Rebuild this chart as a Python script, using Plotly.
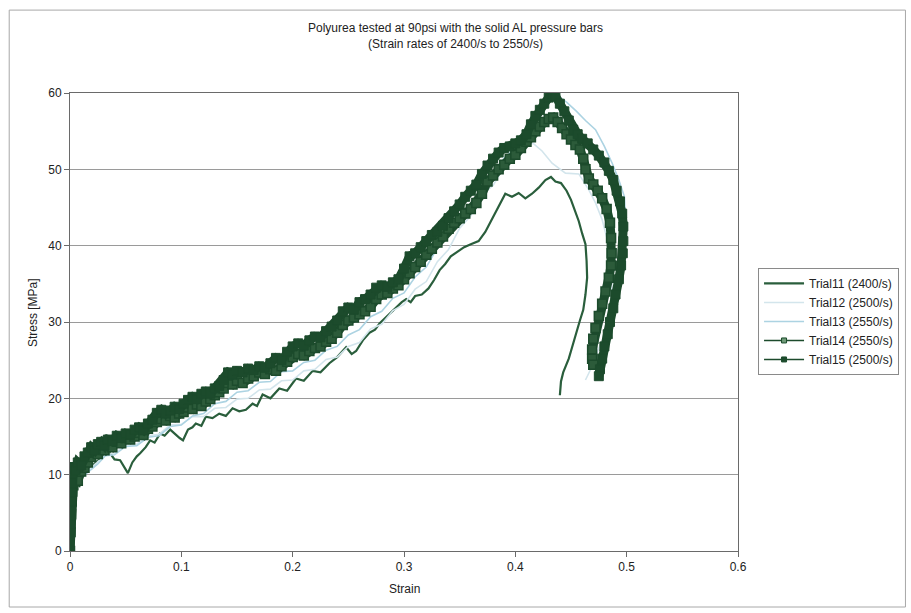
import plotly.graph_objects as go

# ---- Trial 11 (2400/s) ----
t11_strain = [0, 0.0005, 0.001, 0.002, 0.004, 0.007, 0.010, 0.015, 0.020, 0.025, 0.030, 0.036,
              0.040, 0.045, 0.048, 0.052, 0.056, 0.060, 0.063, 0.068, 0.072, 0.076, 0.081, 0.085,
              0.090, 0.095, 0.0985, 0.1015, 0.106, 0.110, 0.113, 0.118, 0.122, 0.128, 0.134, 0.140,
              0.146, 0.152, 0.158, 0.164, 0.168, 0.173, 0.180, 0.188, 0.195, 0.203, 0.210, 0.218,
              0.225, 0.233, 0.240, 0.248, 0.253, 0.257, 0.263, 0.269, 0.274, 0.278, 0.285, 0.293,
              0.298, 0.302, 0.306, 0.310, 0.316, 0.322, 0.327, 0.332, 0.337, 0.342, 0.348, 0.354,
              0.360, 0.367, 0.373, 0.379, 0.385, 0.391, 0.397, 0.403, 0.409, 0.415, 0.421, 0.427,
              0.432, 0.436, 0.441, 0.446, 0.450, 0.454, 0.457, 0.460, 0.463, 0.464, 0.4645, 0.463,
              0.461, 0.458, 0.455, 0.452, 0.450, 0.448, 0.445, 0.443, 0.441, 0.440]
t11_stress = [0, 3.0, 5.5, 7.5, 8.5, 9.0, 9.8, 10.5, 11.2, 11.8, 12.5, 12.8,
              12.0, 11.9, 11.2, 10.2, 11.6, 12.4, 12.8, 13.6, 14.5, 14.2, 15.4, 15.1,
              15.9, 15.2, 14.8, 14.5, 15.9, 16.2, 16.7, 16.4, 17.6, 17.4, 18.0, 17.7,
              18.7, 18.3, 18.5, 19.3, 19.0, 20.5, 20.0, 21.3, 21.0, 22.6, 22.3, 23.6,
              23.4, 24.6, 25.4, 26.7, 25.8, 26.2, 27.6, 28.6, 29.0, 29.8, 30.8, 32.0,
              32.6, 33.0, 32.6, 33.4, 33.6, 34.4, 35.5, 36.8, 37.6, 38.6, 39.2, 39.8,
              40.2, 40.6, 41.8, 43.4, 45.2, 46.8, 46.4, 46.9, 46.2, 46.8, 47.6, 48.6,
              49.0, 48.4, 48.2, 47.2, 46.0, 44.4, 43.2, 41.6, 40.2, 38.0, 35.8, 33.6,
              31.6, 30.2, 28.8, 27.4, 26.2, 25.2, 24.2, 23.4, 22.2, 20.4]

# ---- Trial 12 (2500/s) ----
t12_strain = [0, 0.001, 0.002, 0.004, 0.008, 0.012, 0.018, 0.025, 0.032, 0.040, 0.050, 0.060,
              0.070, 0.080, 0.090, 0.100, 0.110, 0.120, 0.130, 0.140, 0.150, 0.160, 0.170, 0.180,
              0.190, 0.200, 0.210, 0.220, 0.230, 0.240, 0.250, 0.260, 0.270, 0.280, 0.290, 0.300,
              0.310, 0.320, 0.330, 0.340, 0.350, 0.360, 0.370, 0.380, 0.390, 0.400, 0.408, 0.416,
              0.424, 0.433, 0.445, 0.457, 0.466, 0.472, 0.478, 0.484, 0.487, 0.485, 0.480, 0.475,
              0.469, 0.463]
t12_stress = [0, 4.0, 6.5, 8.0, 9.2, 10.0, 10.8, 11.6, 12.6, 12.8, 13.9, 14.0,
              15.1, 15.3, 16.5, 16.6, 17.6, 17.6, 18.7, 18.8, 19.9, 20.0, 21.1, 21.2,
              22.3, 22.4, 23.6, 23.8, 25.1, 25.4, 26.8, 27.3, 29.1, 29.7, 31.5, 32.3,
              34.3, 35.3, 37.9, 39.5, 42.3, 43.9, 46.7, 47.9, 50.3, 51.5, 53.1, 53.4,
              52.4, 50.8, 49.5, 49.4, 47.3, 45.6, 43.4, 40.0, 35.5, 31.0, 28.0, 26.6,
              24.2, 22.4]

# ---- Trial 13 (2550/s) ----
t13_strain = [0, 0.001, 0.002, 0.004, 0.008, 0.012, 0.018, 0.025, 0.032, 0.040, 0.050, 0.060,
              0.070, 0.080, 0.090, 0.100, 0.110, 0.120, 0.130, 0.140, 0.150, 0.160, 0.170, 0.180,
              0.190, 0.200, 0.210, 0.220, 0.230, 0.240, 0.250, 0.260, 0.270, 0.280, 0.290, 0.300,
              0.310, 0.320, 0.330, 0.340, 0.350, 0.360, 0.370, 0.380, 0.390, 0.400, 0.410, 0.420,
              0.430, 0.438, 0.446, 0.455, 0.463, 0.472, 0.480, 0.487, 0.493, 0.498, 0.499, 0.497,
              0.493, 0.488, 0.483, 0.479, 0.476]
t13_stress = [0, 3.5, 6.0, 7.8, 9.0, 9.8, 10.6, 11.4, 12.5, 12.6, 13.7, 13.8,
              14.9, 15.1, 16.3, 16.5, 17.7, 18.0, 19.3, 19.6, 20.8, 21.0, 22.1, 22.2,
              23.5, 23.6, 24.7, 25.0, 26.3, 26.8, 28.3, 29.0, 30.7, 31.4, 33.1, 33.8,
              35.9, 37.2, 39.7, 41.2, 43.7, 45.0, 47.5, 49.0, 51.5, 52.8, 55.3, 56.8,
              59.0, 59.6, 58.8, 57.6, 56.4, 55.2, 53.0, 50.8, 48.6, 46.4, 43.0, 39.0,
              35.0, 31.0, 27.5, 25.0, 23.4]

# ---- Trial 14 (2550/s) ----
t14_strain = [0.000, 0.0005, 0.001, 0.0015, 0.002, 0.003, 0.005, 0.007, 0.010, 0.013, 0.016,
              0.019, 0.022, 0.025, 0.028, 0.031, 0.034, 0.038, 0.042, 0.046, 0.050, 0.054,
              0.058, 0.062, 0.066, 0.070, 0.074, 0.078, 0.082, 0.086, 0.090, 0.094, 0.098,
              0.102, 0.106, 0.110, 0.114, 0.118, 0.122, 0.126, 0.130, 0.134, 0.138, 0.142,
              0.146, 0.150, 0.155, 0.160, 0.165, 0.170, 0.175, 0.180, 0.185, 0.190, 0.195,
              0.200, 0.205, 0.210, 0.215, 0.220, 0.225, 0.230, 0.235, 0.240, 0.245, 0.250,
              0.255, 0.260, 0.265, 0.270, 0.275, 0.280, 0.285, 0.290, 0.295, 0.300, 0.305,
              0.310, 0.315, 0.320, 0.325, 0.330, 0.335, 0.340, 0.345, 0.350, 0.355, 0.360,
              0.365, 0.370, 0.375, 0.380, 0.385, 0.390, 0.395, 0.400, 0.405, 0.410, 0.414,
              0.418, 0.422, 0.426, 0.430, 0.434, 0.438, 0.442, 0.446, 0.450, 0.454, 0.458,
              0.461, 0.463, 0.466, 0.470, 0.474, 0.478, 0.482, 0.485, 0.486, 0.4865, 0.486,
              0.484, 0.481, 0.478, 0.475, 0.472, 0.470, 0.469, 0.469, 0.470]
t14_stress = [0.0, 2.5, 4.8, 6.5, 7.8, 8.6, 9.4, 9.2, 10.4, 10.9, 11.6,
              12.3, 12.9, 12.7, 13.4, 13.2, 13.9, 13.6, 14.3, 14.1, 14.8, 14.6,
              15.0, 15.5, 15.2, 16.0, 16.3, 16.9, 17.3, 17.1, 17.7, 17.5, 18.0,
              18.2, 18.8, 18.6, 19.2, 19.0, 19.6, 19.9, 20.4, 20.8, 21.3, 22.0,
              21.8, 22.3, 22.0, 22.6, 22.9, 23.4, 23.2, 23.8, 23.6, 24.2, 24.8,
              25.4, 25.8, 25.6, 26.2, 26.6, 26.8, 27.4, 27.8, 28.6, 29.6, 30.2,
              30.6, 31.0, 31.4, 32.0, 33.0, 33.6, 33.8, 34.4, 34.8, 35.6, 36.4,
              37.2, 37.9, 38.8, 39.6, 40.4, 41.2, 42.2, 43.0, 43.6, 44.2, 44.8,
              45.6, 46.8, 48.4, 49.2, 50.0, 50.6, 51.4, 51.9, 52.8, 53.6, 54.2,
              55.0, 55.6, 56.2, 56.6, 56.8, 56.2, 55.4, 54.6, 53.9, 53.2, 52.6,
              51.4, 50.0, 48.8, 48.0, 47.2, 46.2, 44.8, 43.0, 41.0, 39.0, 37.4,
              35.8, 34.0, 32.4, 30.8, 29.2, 27.8, 26.4, 25.2, 24.4]

# ---- Trial 15 (2500/s) ----
t15_strain = [0.000, 0.0005, 0.001, 0.0015, 0.002, 0.003, 0.005, 0.007, 0.010, 0.013, 0.016,
              0.019, 0.022, 0.025, 0.028, 0.031, 0.034, 0.038, 0.042, 0.046, 0.050, 0.054,
              0.058, 0.062, 0.066, 0.070, 0.074, 0.078, 0.082, 0.086, 0.090, 0.094, 0.098,
              0.102, 0.106, 0.110, 0.114, 0.118, 0.122, 0.126, 0.130, 0.134, 0.138, 0.142,
              0.146, 0.150, 0.155, 0.160, 0.165, 0.170, 0.175, 0.180, 0.185, 0.190, 0.195,
              0.200, 0.205, 0.210, 0.215, 0.220, 0.225, 0.230, 0.235, 0.240, 0.245, 0.250,
              0.255, 0.260, 0.265, 0.270, 0.275, 0.280, 0.285, 0.290, 0.295, 0.300, 0.305,
              0.310, 0.315, 0.320, 0.325, 0.330, 0.335, 0.340, 0.345, 0.350, 0.355, 0.360,
              0.365, 0.370, 0.375, 0.380, 0.385, 0.390, 0.395, 0.400, 0.405, 0.410, 0.414,
              0.418, 0.422, 0.426, 0.430, 0.433, 0.436, 0.440, 0.444, 0.448, 0.452, 0.456,
              0.460, 0.465, 0.470, 0.475, 0.480, 0.484, 0.488, 0.491, 0.494, 0.496, 0.497,
              0.497, 0.4965, 0.495, 0.493, 0.490, 0.488, 0.485, 0.483, 0.480, 0.478, 0.476,
              0.475]
t15_stress = [0.0, 3.5, 6.5, 8.8, 10.2, 11.0, 10.6, 11.6, 11.2, 12.4, 12.9,
              13.6, 13.2, 14.0, 14.3, 13.8, 14.6, 14.4, 15.1, 14.8, 15.4, 15.2,
              15.9, 16.2, 15.8, 16.7, 17.2, 18.1, 18.5, 18.0, 18.4, 18.9, 18.6,
              19.3, 19.8, 20.2, 19.9, 20.6, 20.9, 20.6, 21.3, 21.6, 22.4, 23.4,
              23.1, 23.6, 23.4, 23.9, 23.7, 24.2, 24.0, 24.6, 25.3, 25.0, 26.1,
              26.8, 27.2, 26.9, 27.6, 28.1, 28.0, 28.8, 29.4, 30.2, 31.4, 31.9,
              31.6, 32.6, 33.0, 33.6, 34.5, 34.8, 34.6, 35.2, 35.6, 37.0, 38.6,
              39.0, 39.8, 40.6, 41.4, 41.8, 42.6, 43.6, 44.5, 45.4, 46.4, 47.2,
              48.0, 49.4, 50.5, 51.4, 52.2, 52.8, 53.0, 53.4, 53.8, 54.6, 55.9,
              57.0, 57.8, 58.6, 59.4, 59.9, 59.6, 58.6, 57.6, 56.4, 55.2, 54.6,
              54.0, 53.4, 52.6, 51.8, 50.9, 49.8, 48.6, 47.2, 45.8, 44.2, 42.5,
              40.6, 39.0, 37.4, 35.6, 33.6, 31.8, 30.0, 28.4, 26.8, 25.2, 23.8,
              22.9]

x_ticks = [0, 0.1, 0.2, 0.3, 0.4, 0.5, 0.6]
y_ticks = [0, 10, 20, 30, 40, 50, 60]

DARK = "#1c4b2c"
FONT = "Liberation Sans, Arial, sans-serif"

fig = go.Figure()

fig.add_trace(go.Scatter(x=t11_strain, y=t11_stress, mode="lines",
                         name="Trial11 (2400/s)", legendrank=1,
                         line=dict(color="#2a5e3c", width=2.2)))
fig.add_trace(go.Scatter(x=t12_strain, y=t12_stress, mode="lines",
                         name="Trial12 (2500/s)", legendrank=2,
                         line=dict(color="#d3e5ec", width=1.6)))
fig.add_trace(go.Scatter(x=t13_strain, y=t13_stress, mode="lines",
                         name="Trial13 (2550/s)", legendrank=3,
                         line=dict(color="#acd3e2", width=1.6)))

# dense, heavily-marked records drawn as a thick band
fig.add_trace(go.Scatter(x=t14_strain, y=t14_stress, mode="lines+markers",
                         legendgroup="t14", showlegend=False,
                         line=dict(color=DARK, width=9),
                         marker=dict(symbol="square", size=9, color="#2c5b3a",
                                     line=dict(color=DARK, width=1.5))))
fig.add_trace(go.Scatter(x=t15_strain, y=t15_stress, mode="lines+markers",
                         legendgroup="t15", showlegend=False,
                         line=dict(color=DARK, width=9),
                         marker=dict(symbol="square", size=9, color=DARK,
                                     line=dict(color=DARK, width=1))))

# legend keys for the marked series
fig.add_trace(go.Scatter(x=[None], y=[None], mode="lines+markers",
                         name="Trial14 (2550/s)", legendgroup="t14", legendrank=4,
                         line=dict(color=DARK, width=1.5),
                         marker=dict(symbol="square", size=5, color="#6f9a78",
                                     line=dict(color=DARK, width=1))))
fig.add_trace(go.Scatter(x=[None], y=[None], mode="lines+markers",
                         name="Trial15 (2500/s)", legendgroup="t15", legendrank=5,
                         line=dict(color=DARK, width=1.5),
                         marker=dict(symbol="square", size=5, color=DARK,
                                     line=dict(color=DARK, width=1))))

# outer chart frame
fig.add_shape(type="rect", xref="paper", yref="paper",
              x0=-0.091, x1=1.2507, y0=-0.1223, y1=1.181,
              line=dict(color="#a8a8a8", width=1), layer="below")

fig.update_layout(
    width=911, height=613,
    margin=dict(l=70, r=171, t=93, b=62),
    paper_bgcolor="white", plot_bgcolor="white",
    font=dict(family=FONT, size=12, color="#222"),
    title=dict(text="Polyurea tested at 90psi with the solid AL pressure bars<br>(Strain rates of 2400/s to 2550/s)",
               x=0.5, xref="container", xanchor="center",
               y=0.947, yref="container", yanchor="top",
               font=dict(family=FONT, size=12, color="#222")),
    showlegend=True,
    legend=dict(x=1.03, y=0.618, xanchor="left", yanchor="top",
                bordercolor="#8a8a8a", borderwidth=1, bgcolor="white",
                font=dict(family=FONT, size=12, color="#222"),
                tracegroupgap=0, itemwidth=40),
    xaxis=dict(range=[0, 0.6], tickvals=x_ticks, ticktext=[str(v) for v in x_ticks],
               showgrid=False, zeroline=False,
               showline=True, linecolor="#6a6a6a", linewidth=1, mirror=True,
               ticks="outside", ticklen=5, tickcolor="#6a6a6a",
               tickfont=dict(family=FONT, size=12, color="#222")),
    yaxis=dict(range=[0, 60], tickvals=y_ticks, ticktext=[str(v) for v in y_ticks],
               showgrid=True, gridcolor="#9a9a9a", gridwidth=1, zeroline=False,
               showline=True, linecolor="#6a6a6a", linewidth=1, mirror=True,
               ticks="outside", ticklen=5, tickcolor="#6a6a6a",
               tickfont=dict(family=FONT, size=12, color="#222")),
    annotations=[
        dict(text="Strain", xref="paper", yref="paper", x=0.5, y=-0.083,
             xanchor="center", yanchor="middle", showarrow=False,
             font=dict(family=FONT, size=12, color="#222")),
        dict(text="Stress [MPa]", xref="paper", yref="paper", x=-0.055, y=0.52,
             xanchor="center", yanchor="middle", textangle=-90, showarrow=False,
             font=dict(family=FONT, size=12, color="#222")),
    ],
)

fig.write_html("out.html")
